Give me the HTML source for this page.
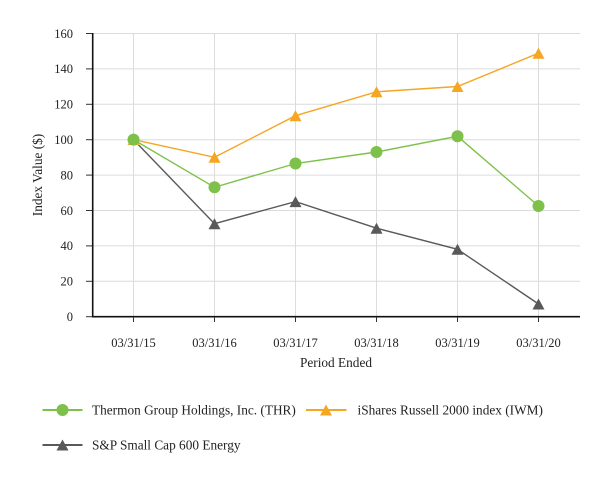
<!DOCTYPE html>
<html><head><meta charset="utf-8"><style>
html,body{margin:0;padding:0;background:#fff;}
svg{display:block;}
text{font-family:"Liberation Serif","Times New Roman",serif;fill:#222;}
</style></head><body>
<svg width="613" height="480" viewBox="0 0 613 480" xmlns="http://www.w3.org/2000/svg">
<rect width="613" height="480" fill="#fff"/>
<!-- horizontal gridlines -->
<g stroke="#dcdcdc" stroke-width="1">
<line x1="93" y1="33.5" x2="580" y2="33.5"/>
<line x1="93" y1="68.9" x2="580" y2="68.9"/>
<line x1="93" y1="104.3" x2="580" y2="104.3"/>
<line x1="93" y1="139.7" x2="580" y2="139.7"/>
<line x1="93" y1="175.1" x2="580" y2="175.1"/>
<line x1="93" y1="210.5" x2="580" y2="210.5"/>
<line x1="93" y1="245.9" x2="580" y2="245.9"/>
<line x1="93" y1="281.3" x2="580" y2="281.3"/>
<!-- vertical gridlines -->
<line x1="133.5" y1="33.5" x2="133.5" y2="316.7"/>
<line x1="214.5" y1="33.5" x2="214.5" y2="316.7"/>
<line x1="295.5" y1="33.5" x2="295.5" y2="316.7"/>
<line x1="376.5" y1="33.5" x2="376.5" y2="316.7"/>
<line x1="457.5" y1="33.5" x2="457.5" y2="316.7"/>
<line x1="538.5" y1="33.5" x2="538.5" y2="316.7"/>
</g>
<!-- axes -->
<g stroke="#111" stroke-width="1.6">
<line x1="92.7" y1="33" x2="92.7" y2="317.5"/>
<line x1="92" y1="316.7" x2="580" y2="316.7"/>
</g>
<g stroke="#333" stroke-width="1">
<line x1="86" y1="33.5" x2="92" y2="33.5"/>
<line x1="86" y1="68.9" x2="92" y2="68.9"/>
<line x1="86" y1="104.3" x2="92" y2="104.3"/>
<line x1="86" y1="139.7" x2="92" y2="139.7"/>
<line x1="86" y1="175.1" x2="92" y2="175.1"/>
<line x1="86" y1="210.5" x2="92" y2="210.5"/>
<line x1="86" y1="245.9" x2="92" y2="245.9"/>
<line x1="86" y1="281.3" x2="92" y2="281.3"/>
<line x1="86" y1="316.7" x2="92" y2="316.7"/>
<line x1="133.5" y1="317" x2="133.5" y2="322"/>
<line x1="214.5" y1="317" x2="214.5" y2="322"/>
<line x1="295.5" y1="317" x2="295.5" y2="322"/>
<line x1="376.5" y1="317" x2="376.5" y2="322"/>
<line x1="457.5" y1="317" x2="457.5" y2="322"/>
<line x1="538.5" y1="317" x2="538.5" y2="322"/>
</g>
<!-- y tick labels -->
<g font-size="12.5" text-anchor="end">
<text x="73" y="37.8">160</text>
<text x="73" y="73.2">140</text>
<text x="73" y="108.6">120</text>
<text x="73" y="144">100</text>
<text x="73" y="179.4">80</text>
<text x="73" y="214.8">60</text>
<text x="73" y="250.2">40</text>
<text x="73" y="285.6">20</text>
<text x="73" y="321">0</text>
</g>
<!-- x tick labels -->
<g font-size="12.5" text-anchor="middle">
<text x="133.5" y="347">03/31/15</text>
<text x="214.5" y="347">03/31/16</text>
<text x="295.5" y="347">03/31/17</text>
<text x="376.5" y="347">03/31/18</text>
<text x="457.5" y="347">03/31/19</text>
<text x="538.5" y="347">03/31/20</text>
</g>
<text x="336" y="367" font-size="13.3" text-anchor="middle">Period Ended</text>
<text x="0" y="0" font-size="13.3" text-anchor="middle" transform="translate(42,175) rotate(-90)">Index Value ($)</text>

<!-- S&P series -->
<polyline fill="none" stroke="#595959" stroke-width="1.4" points="133.5,139.6 214.5,223.7 295.5,201.6 376.5,228.2 457.5,249.3 538.5,304"/>
<g fill="#595959">
<polygon points="214.5,218.2 220.5,229.2 208.5,229.2"/>
<polygon points="295.5,196.1 301.5,207.1 289.5,207.1"/>
<polygon points="376.5,222.7 382.5,233.7 370.5,233.7"/>
<polygon points="457.5,243.8 463.5,254.8 451.5,254.8"/>
<polygon points="538.5,298.5 544.5,309.5 532.5,309.5"/>
</g>
<!-- IWM series -->
<polyline fill="none" stroke="#f5a623" stroke-width="1.4" points="133.5,139.6 214.5,157.3 295.5,115.7 376.5,91.8 457.5,86.5 538.5,53.2"/>
<g fill="#f5a623">
<polygon points="133.5,134 139.5,145 127.5,145"/>
<polygon points="214.5,151.8 220.5,162.8 208.5,162.8"/>
<polygon points="295.5,110.2 301.5,121.2 289.5,121.2"/>
<polygon points="376.5,86.3 382.5,97.3 370.5,97.3"/>
<polygon points="457.5,81 463.5,92 451.5,92"/>
<polygon points="538.5,47.7 544.5,58.7 532.5,58.7"/>
</g>
<!-- THR series -->
<polyline fill="none" stroke="#7dc14a" stroke-width="1.4" points="133.5,139.6 214.5,187.3 295.5,163.5 376.5,152 457.5,136.3 538.5,206"/>
<g fill="#7dc14a">
<circle cx="133.5" cy="139.6" r="6"/>
<circle cx="214.5" cy="187.3" r="6"/>
<circle cx="295.5" cy="163.5" r="6"/>
<circle cx="376.5" cy="152" r="6"/>
<circle cx="457.5" cy="136.3" r="6"/>
<circle cx="538.5" cy="206" r="6"/>
</g>

<!-- legend -->
<line x1="42.5" y1="410" x2="82.5" y2="410" stroke="#7dc14a" stroke-width="2"/>
<circle cx="62.5" cy="410" r="6" fill="#7dc14a"/>
<text x="92" y="414.5" font-size="13.3">Thermon Group Holdings, Inc. (THR)</text>
<line x1="306" y1="410" x2="346.5" y2="410" stroke="#f5a623" stroke-width="2"/>
<polygon points="326,404.5 332,415.5 320,415.5" fill="#f5a623"/>
<text x="357.5" y="414.5" font-size="13.3">iShares Russell 2000 index (IWM)</text>
<line x1="42.5" y1="445" x2="82.5" y2="445" stroke="#595959" stroke-width="2"/>
<polygon points="62.5,439.5 68.5,450.5 56.5,450.5" fill="#595959"/>
<text x="92" y="449.5" font-size="13.3">S&amp;P Small Cap 600 Energy</text>
</svg>
</body></html>
